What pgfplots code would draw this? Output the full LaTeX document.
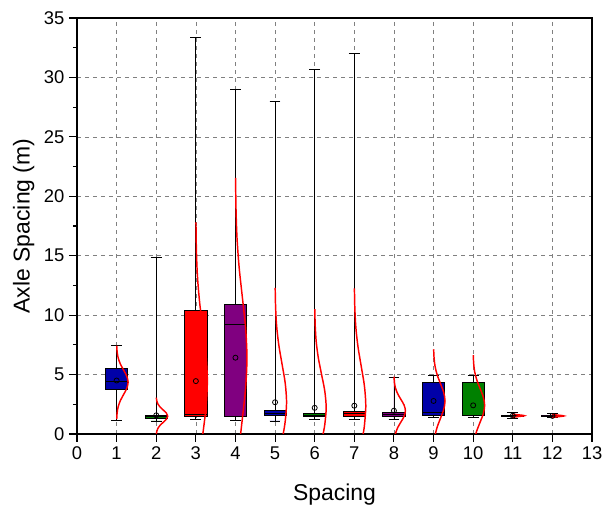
\documentclass[border=0pt]{standalone}
\usepackage{fontspec}
\setmainfont{Liberation Sans}
\usepackage{pgfplots}
\pgfplotsset{compat=1.18}
\usepgfplotslibrary{statistics}

\definecolor{bxblue}{RGB}{0,0,168}
\definecolor{bxgreen}{RGB}{0,128,0}
\definecolor{bxred}{RGB}{255,0,0}
\definecolor{bxpurple}{RGB}{128,0,128}

\pgfplotsset{
  spbox/.style={draw=black, line width=0.6pt, fill=#1,
    boxplot/draw direction=y,
    boxplot/box extend=0.56, boxplot/whisker extend=0.27},
  dens/.style={red, line width=1.1pt, smooth},
}

\begin{document}
\begin{tikzpicture}
\begin{axis}[
  scale only axis, width=386.25pt, height=312pt,
  xmin=0, xmax=13, ymin=0, ymax=35,
  xtick={0,...,13}, ytick={0,5,...,35}, minor y tick num=1,
  tick align=outside, xtick pos=bottom, ytick pos=left,
  major tick length=6pt, minor tick length=3pt,
  axis line style={line width=1.1pt},
  every tick/.style={black, line width=0.8pt},
  grid=major, major grid style={dashed, gray, line width=0.5pt},
  tick label style={font=\fontsize{13.8}{16}\selectfont},
  label style={font=\fontsize{17.2}{20}\selectfont},
  /pgf/number format/assume math mode=true,
  xlabel={Spacing}, ylabel={Axle Spacing (m)},
  xlabel style={at={(axis description cs:0.5,-0.1587)}, anchor=base},
  ylabel style={at={(axis description cs:-0.0922,0.5)}, anchor=base},
]
\coordinate (sw) at (rel axis cs:0,0);
\coordinate (ne) at (rel axis cs:1,1);

% boxes: lower whisker, quartiles, median, upper whisker
\addplot[spbox=bxblue, boxplot prepared={draw position=1, lower whisker=1.15, lower quartile=3.76, median=4.45, upper quartile=5.52, upper whisker=7.42}] coordinates {};
\addplot[spbox=bxgreen, boxplot prepared={draw position=2, lower whisker=1.10, lower quartile=1.32, median=1.45, upper quartile=1.57, upper whisker=14.83}] coordinates {};
\addplot[spbox=bxred, boxplot prepared={draw position=3, lower whisker=1.23, lower quartile=1.45, median=1.65, upper quartile=10.4, upper whisker=33.4}] coordinates {};
\addplot[spbox=bxpurple, boxplot prepared={draw position=4, lower whisker=1.15, lower quartile=1.51, median=9.25, upper quartile=10.94, upper whisker=29.0}] coordinates {};
\addplot[spbox=bxblue, boxplot prepared={draw position=5, lower whisker=1.10, lower quartile=1.54, median=1.70, upper quartile=1.96, upper whisker=28.0}] coordinates {};
\addplot[spbox=bxgreen, boxplot prepared={draw position=6, lower whisker=1.23, lower quartile=1.51, median=1.60, upper quartile=1.74, upper whisker=30.7}] coordinates {};
\addplot[spbox=bxred, boxplot prepared={draw position=7, lower whisker=1.23, lower quartile=1.51, median=1.71, upper quartile=1.88, upper whisker=32.0}] coordinates {};
\addplot[spbox=bxpurple, boxplot prepared={draw position=8, lower whisker=1.23, lower quartile=1.51, median=1.65, upper quartile=1.85, upper whisker=4.74}] coordinates {};
\addplot[spbox=bxblue, boxplot prepared={draw position=9, lower whisker=1.37, lower quartile=1.54, median=1.83, upper quartile=4.35, upper whisker=4.94}] coordinates {};
\addplot[spbox=bxgreen, boxplot prepared={draw position=10, lower whisker=1.37, lower quartile=1.54, median=1.60, upper quartile=4.35, upper whisker=4.94}] coordinates {};
\addplot[spbox=bxred, boxplot prepared={draw position=11, lower whisker=1.32, lower quartile=1.48, median=1.54, upper quartile=1.60, upper whisker=1.83}] coordinates {};
\addplot[spbox=bxpurple, boxplot prepared={draw position=12, lower whisker=1.37, lower quartile=1.47, median=1.52, upper quartile=1.60, upper whisker=1.71}] coordinates {};

% distribution curves beside each box
\addplot[dens] coordinates {(1.003,1.26) (1.013,1.775) (1.039,2.29) (1.094,2.805) (1.176,3.32) (1.256,3.835) (1.290,4.35) (1.256,4.865) (1.176,5.38) (1.094,5.895) (1.039,6.41) (1.013,6.925) (1.003,7.44)};
\addplot[dens] coordinates {(2.005,0) (2.013,0.2) (2.039,0.46) (2.094,0.72) (2.176,0.98) (2.256,1.24) (2.290,1.5) (2.256,1.76) (2.176,2.02) (2.094,2.28) (2.039,2.54) (2.013,2.8) (2.003,3.06)};
\addplot[dens] coordinates {(3.176,0) (3.256,2.225) (3.290,4.45) (3.256,6.675) (3.176,8.9) (3.094,11.125) (3.039,13.35) (3.013,15.575) (3.003,17.8)};
\addplot[dens] coordinates {(4.130,0) (4.176,1.35) (4.256,3.875) (4.290,6.4) (4.256,8.925) (4.176,11.45) (4.094,13.975) (4.039,16.5) (4.013,19.025) (4.003,21.55)};
\addplot[dens] coordinates {(5.205,0) (5.256,1.065) (5.290,2.67) (5.256,4.275) (5.176,5.88) (5.094,7.485) (5.039,9.09) (5.013,10.695) (5.003,12.3)};
\addplot[dens] coordinates {(6.212,0) (6.256,0.815) (6.290,2.2) (6.256,3.585) (6.176,4.97) (6.094,6.355) (6.039,7.74) (6.013,9.125) (6.003,10.51)};
\addplot[dens] coordinates {(7.223,0) (7.256,0.735) (7.290,2.38) (7.256,4.025) (7.176,5.67) (7.094,7.315) (7.039,8.96) (7.013,10.605) (7.003,12.25)};
\addplot[dens] coordinates {(8.035,0) (8.094,0.53) (8.176,1.007) (8.256,1.48) (8.290,1.96) (8.256,2.44) (8.176,2.91) (8.094,3.39) (8.039,3.87) (8.013,4.34) (8.003,4.82)};
\addplot[dens] coordinates {(9.046,0) (9.094,0.605) (9.176,1.33) (9.256,2.055) (9.290,2.78) (9.256,3.505) (9.176,4.23) (9.094,4.955) (9.039,5.68) (9.013,6.405) (9.003,7.13)};
\addplot[dens] coordinates {(10.067,0) (10.094,0.295) (10.176,1.0) (10.256,1.705) (10.290,2.41) (10.256,3.115) (10.176,3.82) (10.094,4.525) (10.039,5.23) (10.013,5.935) (10.003,6.64)};
\addplot[dens] coordinates {(11.003,1.36) (11.013,1.39) (11.039,1.42) (11.094,1.45) (11.176,1.48) (11.256,1.51) (11.290,1.54) (11.256,1.57) (11.176,1.60) (11.094,1.63) (11.039,1.66) (11.013,1.69) (11.003,1.72)};
\addplot[dens] coordinates {(12.003,1.355) (12.013,1.383) (12.039,1.41) (12.094,1.438) (12.176,1.465) (12.256,1.493) (12.290,1.52) (12.256,1.548) (12.176,1.575) (12.094,1.603) (12.039,1.63) (12.013,1.658) (12.003,1.685)};

% mean values
\addplot[only marks, mark=o, mark size=1.9pt, black, mark options={line width=0.6pt}] coordinates {(1,4.5) (2,1.57) (3,4.45) (4,6.42) (5,2.67) (6,2.2) (7,2.38) (8,1.96) (9,2.78) (10,2.41) (11,1.54) (12,1.52)};
\end{axis}
\pgfresetboundingbox
\path ([shift={(-57.75pt,-55.5pt)}]sw) rectangle ([shift={(8.25pt,13.5pt)}]ne);
\end{tikzpicture}
\end{document}
